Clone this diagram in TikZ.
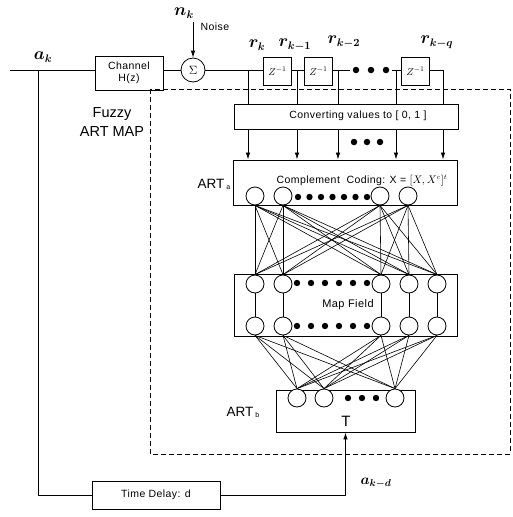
\documentclass[tikz,border=0pt]{standalone}
\usepackage{fontspec}
\setmainfont{Liberation Sans}
\usepackage{amsmath}
\usetikzlibrary{arrows.meta}
\begin{document}
\begin{tikzpicture}[x=1pt,y=-1pt, line width=0.8pt,
  box/.style={draw, rectangle, inner sep=0pt, line width=0.9pt},
  neuron/.style={draw, circle, minimum size=18pt, inner sep=0pt, fill=white, line width=0.8pt},
  blob/.style={fill, circle, minimum size=6.5pt, inner sep=0pt},
  lbl/.style={font=\fontsize{10.5}{12}\selectfont\addfontfeatures{LetterSpace=4}},
  sig/.style={font=\fontsize{16}{16}\selectfont\boldmath},
  arr/.style={-{Latex[length=7pt,width=4.5pt]}},
  net/.style={line width=0.6pt},
]
\useasboundingbox (0,0) rectangle (513,517);

% dashed Fuzzy ARTMAP frame
\draw[dashed, dash pattern=on 5pt off 3pt, line width=0.7pt] (150,89) rectangle (510,454);
\node[font=\fontsize{14.5}{19}\selectfont, align=center] (fuzzy) at (112,122) {Fuzzy\\ART MAP};

% top signal chain
\coordinate (start) at (10,70);
\node[sig] (ak) at (43,57) {$a_k$};
\node[box, lbl, minimum width=68pt, minimum height=34pt, align=center] (chan) at (129,73) {Channel\\H(z)};
\node[draw, circle, minimum size=24pt, inner sep=0pt, font=\large] (sum) at (193,70) {$\Sigma$};
\node[sig] (nk) at (184,13) {$n_k$};
\coordinate (nktop) at (193,22);
\node[lbl] (noise) at (215,27) {Noise};
\draw[arr] (nktop) -- (sum.north);

\node[box, minimum width=28pt, minimum height=28pt] (z1) at (277.5,71) {$Z^{-1}$};
\node[box, minimum width=28pt, minimum height=28pt] (z2) at (318.5,71) {$Z^{-1}$};
\node[box, minimum width=28pt, minimum height=28pt] (z3) at (415.5,71) {$Z^{-1}$};
\node[blob] (d1) at (356,70) {};
\node[blob] (d2) at (371,70) {};
\node[blob] (d3) at (386,70) {};

\node[sig] (rk) at (257,45) {$r_k$};
\node[sig] (rk1) at (295,45) {$r_{k-1}$};
\node[sig] (rk2) at (344,42) {$r_{k-2}$};
\node[sig] (rkq) at (437,42) {$r_{k-q}$};

\coordinate (t1) at (248,70);
\coordinate (t2) at (297,70);
\coordinate (t3) at (338,70);
\coordinate (t4) at (396,70);
\coordinate (t5) at (443,70);
\coordinate (e2) at (350,70);
\coordinate (s3) at (392,70);

\coordinate (fb) at (38,70);
\draw (start) -- (chan.west |- start);
\draw (chan.east |- start) -- (sum.west);
\draw (sum.east) -- (z1.west |- sum.east);
\draw (z1.east |- start) -- (z2.west |- start);
\draw (z2.east |- start) -- (e2);
\draw (s3) -- (z3.west |- start);
\draw (z3.east |- start) -- (t5);

% converting box
\node[box, minimum width=224pt, minimum height=25pt] (conv) at (346,117) {};
\node[lbl] (convtext) at (358,116) {Converting values to [ 0, 1 ]};
\foreach \t in {t1,t2,t3,t4,t5} {
  \draw (\t) -- (\t |- conv.north);
}

% ART a
\node[box, minimum width=224pt, minimum height=45pt] (arta) at (345,182.5) {};
\node[lbl] (ctext) at (362,181) {Complement\ \ Coding: X = $[X,X^c]^t$};
\node[font=\fontsize{13.5}{14}\selectfont] (artalbl) at (214,184) {ART\raisebox{-1pt}{\fontsize{7}{8}\selectfont\ a}};
\foreach \t in {t1,t2,t3,t4,t5} {
  \draw[arr] (\t |- conv.south) -- (\t |- arta.north);
}
\node[blob] (cd1) at (354,142) {};
\node[blob] (cd2) at (367,142) {};
\node[blob] (cd3) at (380,142) {};

\foreach \i/\x in {1/255,2/283,3/380,4/408} {
  \node[neuron] (a\i) at (\x,196) {};
}
\foreach \x in {298,309.5,321,332.5,344,355.5,367} {
  \fill (\x,197) circle (3.2pt);
}

% Map field
\node[box, minimum width=223pt, minimum height=62pt] (mapf) at (345.5,305) {};
\node[lbl, font=\fontsize{11}{12}\selectfont\addfontfeatures{LetterSpace=4}] (maptext) at (348,305) {Map Field};
\foreach \j/\x in {1/255,2/283,3/381,4/409,5/437} {
  \node[neuron] (mt\j) at (\x,284) {};
  \node[neuron] (mb\j) at (\x,326) {};
  \draw[net] (mt\j.south) -- (mb\j.north);
}
\foreach \x in {297,311,325,339,353,367} {
  \fill (\x,283) circle (3.2pt);
  \fill (\x,326) circle (3.2pt);
}

% ART b
\node[box, minimum width=139pt, minimum height=42pt] (artb) at (345.5,411) {};
\node[font=\fontsize{15}{16}\selectfont] (T) at (346,421) {T};
\node[font=\fontsize{13.5}{14}\selectfont] (artblbl) at (243,412) {ART\raisebox{-1pt}{\fontsize{7}{8}\selectfont\ b}};
\foreach \k/\x in {1/297,2/324,3/395} {
  \node[neuron] (b\k) at (\x,398) {};
}
\foreach \x in {348,362,376} {
  \fill (\x,398) circle (3.2pt);
}

% full connections
\foreach \i in {1,2,3,4} {
  \foreach \j in {1,2,3,4,5} {
    \draw[net] (a\i.south) -- (mt\j.north);
  }
}
\foreach \j in {1,2,3,4,5} {
  \foreach \k in {1,2,3} {
    \draw[net] (mb\j.south) -- (b\k.north);
  }
}

% time delay feedback
\node[box, lbl, minimum width=128pt, minimum height=28pt] (tdel) at (156,495) {Time Delay: d};
\coordinate (fbcorner) at (38,495);
\draw (fb) -- (fbcorner) -- (tdel.west);
\draw[arr] (tdel.east) -| (artb.south);
\node[sig, font=\fontsize{14}{14}\selectfont\boldmath] (akd) at (376,483) {$a_{k-d}$};
\end{tikzpicture}
\end{document}
